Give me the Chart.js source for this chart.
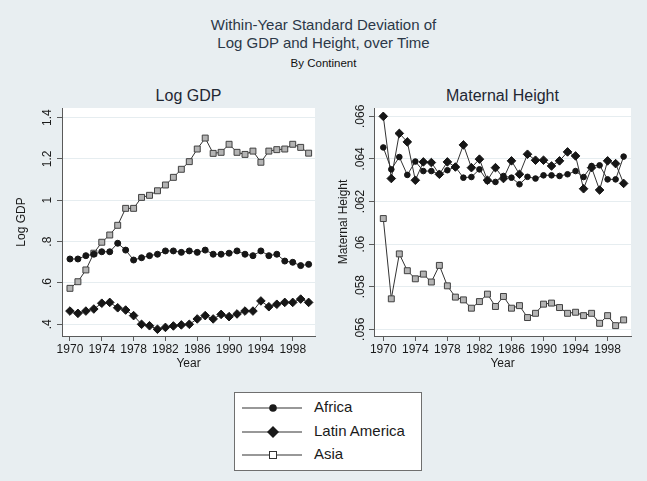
<!DOCTYPE html>
<html>
<head>
<meta charset="utf-8">
<script src="https://cdn.jsdelivr.net/npm/chart.js"></script>
<style>
	body { margin: 0; background: #e8eef1; font-family: "Liberation Sans", Arial, sans-serif; }
	#page { position: relative; width: 647px; height: 481px; overflow: hidden; }
	.txt { position: absolute; left: 0; width: 647px; text-align: center; white-space: nowrap; }
	#t1, #t2 { font-size: 15px; line-height: 18px; color: #2c3848; }
	#t1 { top: 16px; }
	#t2 { top: 34px; }
	#sub { top: 56px; font-size: 11.5px; line-height: 14px; color: #111; }
	.ptitle { position: absolute; top: 86px; width: 200px; margin-left: -100px; text-align: center; font-size: 16px; line-height: 19px; color: #1f2733; white-space: nowrap; }
	canvas { position: absolute; }
	#gdp-chart { left: 0; top: 83px; }
	#height-chart { left: 325px; top: 83px; }
	#legend { position: absolute; left: 234px; top: 392px; width: 186px; height: 77px; background: #fff; border: 1px solid #6f6f6f; }
	.row { position: absolute; left: 7px; height: 14px; }
	.row svg { position: absolute; left: 0; top: 1px; }
	.row span { position: absolute; left: 72px; top: -3px; font-size: 15px; line-height: 18px; color: #1a1a1a; white-space: nowrap; }
</style>
</head>
<body>
<div id="page">
	<div class="txt" id="t1">Within-Year Standard Deviation of</div>
	<div class="txt" id="t2">Log GDP and Height, over Time</div>
	<div class="txt" id="sub">By Continent</div>
	<div class="ptitle" style="left: 188.5px;">Log GDP</div>
	<div class="ptitle" style="left: 502.5px;">Maternal Height</div>
	<canvas id="gdp-chart" width="325" height="293"></canvas>
	<canvas id="height-chart" width="322" height="293"></canvas>
	<div id="legend">
		<div class="row" style="top: 8px;">
			<svg width="62" height="12"><line x1="0" y1="6" x2="60" y2="6" stroke="#333" stroke-width="1.2"/><circle cx="31" cy="6" r="3.8" fill="#1a1a1a"/></svg>
			<span>Africa</span>
		</div>
		<div class="row" style="top: 32px;">
			<svg width="62" height="12"><line x1="0" y1="6" x2="60" y2="6" stroke="#333" stroke-width="1.2"/><polygon points="25,6 31,0 37,6 31,12" fill="#1a1a1a"/></svg>
			<span>Latin America</span>
		</div>
		<div class="row" style="top: 55px;">
			<svg width="62" height="12"><line x1="0" y1="6" x2="60" y2="6" stroke="#333" stroke-width="1.2"/><rect x="27.5" y="2.5" width="7" height="7" fill="#fff" stroke="#333" stroke-width="1"/></svg>
			<span>Asia</span>
		</div>
	</div>
</div>
<script>
let getCtx = (id) => { return document.getElementById(id).getContext(`2d`); };

const FONT = `"Liberation Sans", Arial, sans-serif`;
const LINE_COL = `#333333`;
const MARK_COL = `#161616`;
const AXIS_COL = `#5a5a5a`;
const GRID_COL = `#e6edf0`;

const years = [1970, 1971, 1972, 1973, 1974, 1975, 1976, 1977, 1978, 1979, 1980, 1981, 1982, 1983, 1984, 1985,
	1986, 1987, 1988, 1989, 1990, 1991, 1992, 1993, 1994, 1995, 1996, 1997, 1998, 1999, 2000];
const yearTicks = [1970, 1974, 1978, 1982, 1986, 1990, 1994, 1998];

// Log GDP panel
const gdpAfrica = [0.716, 0.716, 0.732, 0.739, 0.751, 0.751, 0.792, 0.759, 0.711, 0.722, 0.732, 0.739, 0.755, 0.755, 0.748, 0.755,
	0.748, 0.759, 0.739, 0.739, 0.744, 0.755, 0.739, 0.732, 0.755, 0.732, 0.739, 0.706, 0.700, 0.684, 0.690];
const gdpLatin = [0.464, 0.453, 0.464, 0.474, 0.502, 0.506, 0.480, 0.469, 0.442, 0.400, 0.393, 0.376, 0.385, 0.392, 0.397, 0.400,
	0.426, 0.442, 0.426, 0.448, 0.437, 0.450, 0.464, 0.464, 0.513, 0.485, 0.497, 0.506, 0.506, 0.522, 0.506];
const gdpAsia = [0.574, 0.606, 0.663, 0.744, 0.797, 0.832, 0.879, 0.961, 0.961, 1.014, 1.024, 1.046, 1.074, 1.111, 1.150, 1.187,
	1.248, 1.301, 1.227, 1.232, 1.271, 1.232, 1.222, 1.238, 1.184, 1.238, 1.245, 1.248, 1.271, 1.256, 1.228];
const gdpTicks = [0.4, 0.6, 0.8, 1, 1.2, 1.4];

// Maternal height panel
const htAfrica = [0.06454, 0.06351, 0.06409, 0.06325, 0.06388, 0.06343, 0.06343, 0.06328, 0.06347, 0.06362, 0.06312, 0.06315, 0.06351, 0.06296, 0.06292, 0.06320,
	0.06312, 0.06281, 0.06316, 0.06308, 0.06323, 0.06323, 0.06320, 0.06328, 0.06343, 0.06315, 0.06367, 0.06370, 0.06304, 0.06304, 0.06411];
const htLatin = [0.06600, 0.06308, 0.06520, 0.06480, 0.06300, 0.06386, 0.06383, 0.06328, 0.06386, 0.06362, 0.06466, 0.06359, 0.06399, 0.06300, 0.06359, 0.06308,
	0.06391, 0.06328, 0.06422, 0.06394, 0.06394, 0.06367, 0.06391, 0.06433, 0.06414, 0.06260, 0.06359, 0.06254, 0.06391, 0.06378, 0.06285];
const htAsia = [0.06120, 0.05743, 0.05954, 0.05875, 0.05837, 0.05859, 0.05822, 0.05900, 0.05804, 0.05751, 0.05738, 0.05699, 0.05730, 0.05765, 0.05707, 0.05754,
	0.05699, 0.05711, 0.05655, 0.05675, 0.05718, 0.05723, 0.05702, 0.05675, 0.05680, 0.05664, 0.05675, 0.05628, 0.05664, 0.05617, 0.05644];
const htTicks = [0.056, 0.058, 0.06, 0.062, 0.064, 0.066];

// white plot region like stata
const plotBg = {
	id: `plotBg`,
	beforeDraw: (chart) =>
	{
		let { ctx, chartArea: a } = chart;
		ctx.save();
		ctx.fillStyle = `#ffffff`;
		ctx.fillRect(a.left, a.top, a.right - a.left, a.bottom - a.top);
		ctx.restore();
	},
};

let toPoints = (vals) => { return years.map((y, i) => ({ x: y, y: vals[i] })); };
let stataNum = (v) => { return (v < 1 ? String(v).replace(/^0/, ``) : String(v)); };

let series = (label, vals, style, radius, fill) =>
{
	return {
		label: label,
		data: toPoints(vals),
		borderColor: LINE_COL,
		borderWidth: 1,
		tension: 0,
		pointStyle: style,
		pointRadius: radius,
		pointBackgroundColor: fill,
		pointBorderColor: style === `rect` ? `#404040` : MARK_COL,
		pointBorderWidth: 1,
	};
};

let makePanel = (id, cfg) =>
{
	return new Chart(getCtx(id),
	{
		type: `line`,
		data: { datasets: cfg.datasets },
		plugins: [plotBg],
		options:
		{
			responsive: false,
			animation: false,
			devicePixelRatio: 1,
			layout: { padding: { top: 25, right: cfg.padRight, left: 0, bottom: 0 } },
			plugins:
			{
				legend: { display: false },
				tooltip: { enabled: false },
			},
			scales:
			{
				x:
				{
					type: `linear`,
					min: cfg.xMin,
					max: cfg.xMax,
					afterBuildTicks: (s) => { s.ticks = yearTicks.map((v) => ({ value: v })); },
					afterFit: (s) => { s.height = 40; },
					ticks:
					{
						callback: (v) => String(v),
						font: { family: FONT, size: 12 },
						color: `#1a1a1a`,
						padding: 1,
						maxRotation: 0,
					},
					grid: { drawOnChartArea: false, drawTicks: true, tickLength: 5, tickColor: AXIS_COL },
					border: { color: AXIS_COL, width: 1 },
					title:
					{
						display: true,
						text: `Year`,
						font: { family: FONT, size: 12 },
						color: `#1a1a1a`,
						padding: { top: 0, bottom: 5 },
					},
				},
				y:
				{
					type: `linear`,
					min: cfg.yMin,
					max: cfg.yMax,
					afterBuildTicks: (s) => { s.ticks = cfg.yTicks.map((v) => ({ value: v })); },
					afterFit: (s) => { s.width = cfg.yWidth; },
					ticks:
					{
						callback: (v) => stataNum(v),
						font: { family: FONT, size: 12 },
						color: `#1a1a1a`,
						minRotation: 90,
						maxRotation: 90,
						crossAlign: `center`,
						padding: cfg.tickPad,
					},
					grid: { color: GRID_COL, drawTicks: true, tickLength: 5, tickColor: AXIS_COL },
					border: { color: AXIS_COL, width: 1 },
					title:
					{
						display: true,
						text: cfg.yTitle,
						font: { family: FONT, size: 12 },
						color: `#1a1a1a`,
						padding: { top: cfg.titlePad, bottom: 0 },
					},
				},
			},
		},
	});
};

let gdpChart = makePanel(`gdp-chart`,
{
	yTitle: `Log GDP`,
	datasets: [
		series(`Africa`, gdpAfrica, `circle`, 3, MARK_COL),
		series(`Latin America`, gdpLatin, `rectRot`, 4.3, MARK_COL),
		series(`Asia`, gdpAsia, `rect`, 4.2, `#b4b4b4`),
	],
	xMin: 1969,
	xMax: 2000.8,
	yMin: 0.3434,
	yMax: 1.4465,
	yTicks: gdpTicks,
	yWidth: 62,
	padRight: 10,
	tickPad: 1,
	titlePad: 14,
});

let heightChart = makePanel(`height-chart`,
{
	yTitle: `Maternal Height`,
	datasets: [
		series(`Africa`, htAfrica, `circle`, 2.8, MARK_COL),
		series(`Latin America`, htLatin, `rectRot`, 4.3, MARK_COL),
		series(`Asia`, htAsia, `rect`, 4.2, `#b4b4b4`),
	],
	xMin: 1968.84,
	xMax: 2000.92,
	yMin: 0.055684,
	yMax: 0.066392,
	yTicks: htTicks,
	yWidth: 49,
	padRight: 16,
	tickPad: -3,
	titlePad: 11,
});
</script>
</body>
</html>
